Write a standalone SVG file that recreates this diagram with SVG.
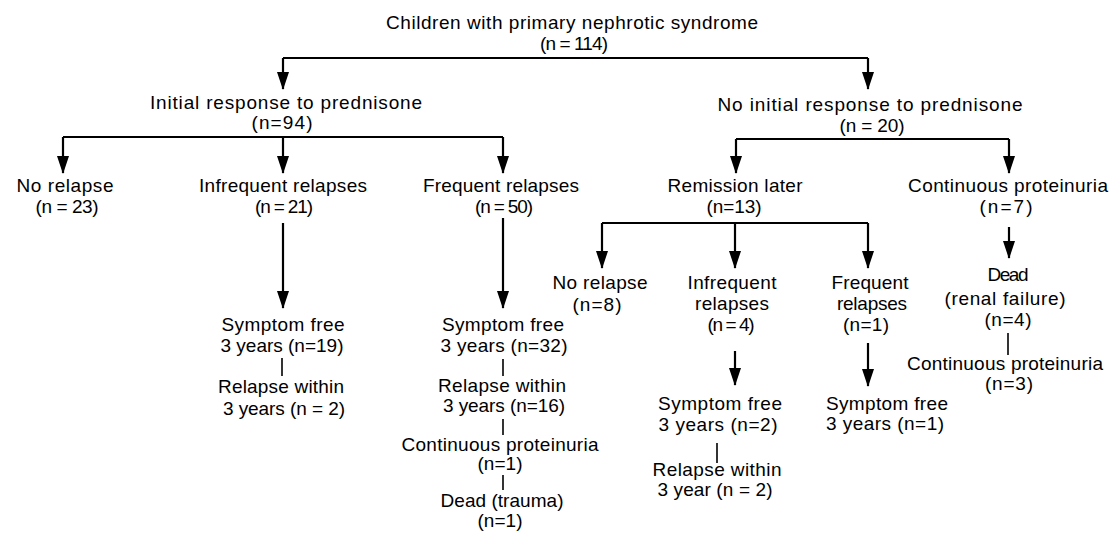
<svg xmlns="http://www.w3.org/2000/svg" width="1110" height="533" viewBox="0 0 1110 533">
<style>
text{font-family:"Liberation Sans",Arial,sans-serif;font-size:19px;fill:#000;text-anchor:middle}
.c{stroke:#000;stroke-width:2.2;fill:none}
.p{stroke:#000;stroke-width:1.6;fill:none}
</style>
<defs>
<marker id="ah" markerUnits="userSpaceOnUse" markerWidth="18" markerHeight="12" refX="17" refY="6" orient="auto">
<path d="M0,0 L18,6 L0,12 z" fill="#000"/>
</marker>
</defs>
<rect width="1110" height="533" fill="#fff"/>
<g id="connectors">
<path class="c" d="M283,58 H868"/>
<path class="c" d="M283,58 V89" marker-end="url(#ah)"/>
<path class="c" d="M868,58 V89" marker-end="url(#ah)"/>
<path class="c" d="M63,137 H503"/>
<path class="c" d="M63,137 V173" marker-end="url(#ah)"/>
<path class="c" d="M283,137 V173" marker-end="url(#ah)"/>
<path class="c" d="M503,137 V173" marker-end="url(#ah)"/>
<path class="c" d="M736,139 H1009"/>
<path class="c" d="M736,139 V173" marker-end="url(#ah)"/>
<path class="c" d="M1009,139 V173" marker-end="url(#ah)"/>
<path class="c" d="M602,223 H868"/>
<path class="c" d="M602,223 V268" marker-end="url(#ah)"/>
<path class="c" d="M735,223 V268" marker-end="url(#ah)"/>
<path class="c" d="M868,223 V268" marker-end="url(#ah)"/>
<path class="c" d="M283,223 V308" marker-end="url(#ah)"/>
<path class="c" d="M503,218 V308" marker-end="url(#ah)"/>
<path class="c" d="M1009,227 V258" marker-end="url(#ah)"/>
<path class="c" d="M735,351 V385" marker-end="url(#ah)"/>
<path class="c" d="M868,343 V386" marker-end="url(#ah)"/>
<path class="p" d="M282,358 V376"/>
<path class="p" d="M503,359 V376"/>
<path class="p" d="M503,419 V435"/>
<path class="p" d="M503,475 V490"/>
<path class="p" d="M717,443 V463"/>
<path class="p" d="M1008,333 V355"/>
</g>
<g id="root">
<text x="572" y="29" textLength="372">Children with primary nephrotic syndrome</text>
<text x="574" y="50" textLength="68">(n = 114)</text>
</g>
<g id="initial-response">
<text x="286" y="109" textLength="272">Initial response to prednisone</text>
<text x="282" y="129" textLength="61">(n=94)</text>
</g>
<g id="no-initial-response">
<text x="870" y="111" textLength="305">No initial response to prednisone</text>
<text x="872" y="132" textLength="65">(n = 20)</text>
</g>
<g id="no-relapse-1">
<text x="65" y="192" textLength="97">No relapse</text>
<text x="67" y="213" textLength="63">(n = 23)</text>
</g>
<g id="infrequent-1">
<text x="283" y="192" textLength="168">Infrequent relapses</text>
<text x="284" y="213" textLength="58">(n = 21)</text>
</g>
<g id="frequent-1">
<text x="501" y="192" textLength="156">Frequent relapses</text>
<text x="504" y="213" textLength="58">(n = 50)</text>
</g>
<g id="remission-later">
<text x="735" y="192" textLength="135">Remission later</text>
<text x="734" y="213" textLength="55">(n=13)</text>
</g>
<g id="continuous-proteinuria-1">
<text x="1008" y="192" textLength="200">Continuous proteinuria</text>
<text x="1006" y="213" textLength="53">(n=7)</text>
</g>
<g id="no-relapse-2">
<text x="600" y="289" textLength="95">No relapse</text>
<text x="597" y="311" textLength="49">(n=8)</text>
</g>
<g id="infrequent-2">
<text x="732" y="289" textLength="89">Infrequent</text>
<text x="732" y="310" textLength="74">relapses</text>
<text x="731" y="331" textLength="47">(n = 4)</text>
</g>
<g id="frequent-2">
<text x="870" y="289" textLength="77">Frequent</text>
<text x="872" y="310" textLength="70">relapses</text>
<text x="866" y="331" textLength="46">(n=1)</text>
</g>
<g id="dead-renal">
<text x="1008" y="281" textLength="41">Dead</text>
<text x="1005" y="305" textLength="121">(renal failure)</text>
<text x="1008" y="326" textLength="47">(n=4)</text>
</g>
<g id="continuous-proteinuria-2">
<text x="1005" y="370" textLength="196">Continuous proteinuria</text>
<text x="1009" y="390" textLength="48">(n=3)</text>
</g>
<g id="symptom-free-1">
<text x="283" y="331" textLength="123">Symptom free</text>
<text x="282" y="352" textLength="123">3 years (n=19)</text>
</g>
<g id="relapse-within-1">
<text x="281" y="393" textLength="126">Relapse within</text>
<text x="284" y="415" textLength="122">3 years (n = 2)</text>
</g>
<g id="symptom-free-2">
<text x="503" y="331" textLength="122">Symptom free</text>
<text x="504" y="352" textLength="127">3 years (n=32)</text>
</g>
<g id="relapse-within-2">
<text x="502" y="392" textLength="128">Relapse within</text>
<text x="504" y="412" textLength="122">3 years (n=16)</text>
</g>
<g id="continuous-proteinuria-3">
<text x="500" y="451" textLength="197">Continuous proteinuria</text>
<text x="500" y="470" textLength="45">(n=1)</text>
</g>
<g id="dead-trauma">
<text x="502" y="507" textLength="123">Dead (trauma)</text>
<text x="500" y="527" textLength="45">(n=1)</text>
</g>
<g id="symptom-free-3">
<text x="720" y="410" textLength="124">Symptom free</text>
<text x="718" y="431" textLength="119">3 years (n=2)</text>
</g>
<g id="relapse-within-3">
<text x="717" y="476" textLength="129">Relapse within</text>
<text x="715" y="496" textLength="115">3 year (n = 2)</text>
</g>
<g id="symptom-free-4">
<text x="887" y="410" textLength="122">Symptom free</text>
<text x="885" y="430" textLength="118">3 years (n=1)</text>
</g>
</svg>
